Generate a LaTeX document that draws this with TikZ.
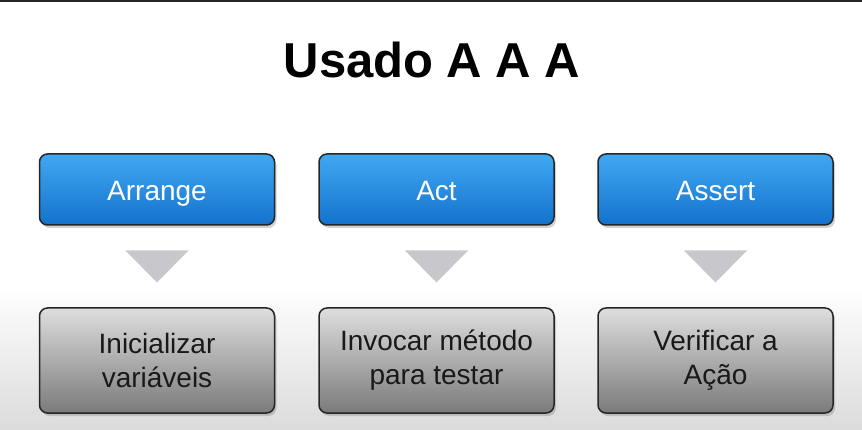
\documentclass[tikz,border=0pt]{standalone}
\usepackage{fontspec}
\setmainfont{Liberation Sans}
\usepackage{tikz}
\usetikzlibrary{shadows,calc}
\definecolor{stepblue}{RGB}{20,114,204}
\definecolor{stepblueup}{RGB}{64,168,242}
\definecolor{arrowgray}{RGB}{200,200,204}

\begin{document}
\begin{tikzpicture}[x=1pt, y=-1pt,
        box/.style={rectangle, rounded corners=8pt, draw=black!85, line width=1.5pt, minimum width=235pt, inner sep=0pt, outer sep=0pt, align=center, drop shadow={shadow xshift=2pt, shadow yshift=-3pt, opacity=.35}},
        bluebox/.style={box, minimum height=71pt, top color=stepblueup, bottom color=stepblue, text=white, font=\fontsize{28}{34}\selectfont, text height=23pt, text depth=0pt},
        graybox/.style={box, minimum height=105pt, top color=black!13, bottom color=black!52, text=black!90, font=\fontsize{28}{34}\selectfont},
        tri/.style={fill=arrowgray}]

        % Background
        \useasboundingbox (0,0) rectangle (862,430);
        \fill[white] (0,0) rectangle (862,430);
        \shade[top color=white, bottom color=black!14] (0,285) rectangle (862,430);
        \fill[black!85] (0,0) rectangle (862,2.5);

        % Title
        \node[font=\fontsize{49}{55}\selectfont\bfseries] (title) at (432,60) {Usado A A A};

        % Steps
        \node[bluebox] (arrange) at (157,189.5) {Arrange};
        \node[bluebox] (act) at (436.5,189.5) {Act};
        \node[bluebox] (assert) at (715.5,189.5) {Assert};

        % Descriptions
        \node[graybox] (init) at (157,360.5) {Inicializar\\vari\'aveis};
        \node[graybox] (invoke) at (436.5,360.5) {Invocar m\'etodo\\para testar};
        \node[graybox] (verify) at (715.5,360.5) {Verificar a\\A\c{c}\~ao};

        % Triangles
        \fill[tri] ($(arrange.south)!.5!(init.north)$) ++(-31.5,-16) -- ++(63,0) -- ++(-31.5,32) -- cycle;
        \fill[tri] ($(act.south)!.5!(invoke.north)$) ++(-31.5,-16) -- ++(63,0) -- ++(-31.5,32) -- cycle;
        \fill[tri] ($(assert.south)!.5!(verify.north)$) ++(-31.5,-16) -- ++(63,0) -- ++(-31.5,32) -- cycle;

    \end{tikzpicture}
\end{document}
